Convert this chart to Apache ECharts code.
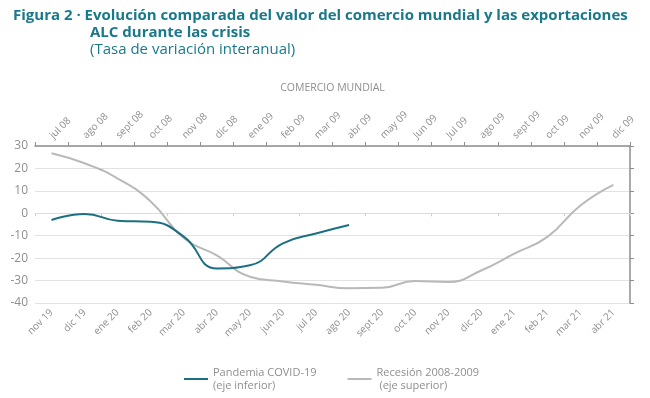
<!DOCTYPE html>
<html lang="es">
<head>
<meta charset="UTF-8">
<title>Figura 2</title>
<script src="https://cdn.jsdelivr.net/npm/echarts@6/dist/echarts.min.js"></script>
<style>
  html, body { margin: 0; padding: 0; background: #fff; }
  #chart { width: 650px; height: 398px; }
</style>
</head>
<body>
<div id="chart"></div>
<script>
// eje inferior: pandemia
var mesesCovid = ['nov 19', 'dic 19', 'ene 20', 'feb 20', 'mar 20', 'abr 20', 'may 20', 'jun 20', 'jul 20',
  'ago 20', 'sept 20', 'oct 20', 'nov 20', 'dic 20', 'ene 21', 'feb 21', 'mar 21', 'abr 21'];
// eje superior: recesion
var mesesRecesion = ['jul 08', 'ago 08', 'sept 08', 'oct 08', 'nov 08', 'dic 08', 'ene 09', 'feb 09', 'mar 09',
  'abr 09', 'may 09', 'Jun 09', 'Jul 09', 'ago 09', 'sept 09', 'oct 09', 'nov 09', 'dic 09'];

var covid = [-3, -0.3, -3.3, -3.8, -10.4, -24.6, -23.2, -13.4, -9, -5.2];
var recesion = [26.8, 22.3, 15.5, 5.3, -11, -18.8, -28.3, -30.4, -31.9, -33.4,
  -33.2, -30.2, -30.6, -25.5, -18, -10.5, 3.5, 12.7];

var yMin = -40, yMax = 30, yStep = 10;

var teal = '#1c6f80';
var gris = '#b9b9b9';
var tituloColor = '#19798b';
var ejeColor = '#8e8e8e';
var textoColor = '#8f8f8f';
var fuente = 'Open Sans';

var chart = echarts.init(document.getElementById('chart'));

var option = {
  animation: false,
  textStyle: { fontFamily: fuente },
  title: [
    {
      text: 'Figura 2 · Evolución comparada del valor del comercio mundial y las exportaciones',
      left: 8, top: 3,
      textStyle: { color: tituloColor, fontSize: 15, fontWeight: 'bold', fontFamily: fuente }
    },
    {
      text: 'ALC durante las crisis',
      left: 85, top: 20,
      textStyle: { color: tituloColor, fontSize: 15, fontWeight: 'bold', fontFamily: fuente }
    },
    {
      text: '(Tasa de variación interanual)',
      left: 85, top: 37,
      textStyle: { color: tituloColor, fontSize: 15, fontWeight: 'normal', fontFamily: fuente }
    }
  ],
  legend: {
    left: 179, top: 361,
    itemGap: 31,
    itemWidth: 24, itemHeight: 2,
    icon: 'rect',
    textStyle: { color: textoColor, fontSize: 11, lineHeight: 13 },
    data: ['Pandemia COVID-19\n(eje inferior)', 'Recesión 2008-2009\n (eje superior)']
  },
  grid: { left: 35, right: 20, top: 146, bottom: 95 },
  xAxis: [
    {
      // linea del cero con marcas
      type: 'category', position: 'bottom', data: mesesCovid,
      axisLine: { onZero: true, lineStyle: { color: '#dcdcdc', width: 1 } },
      axisTick: { show: true, length: 3, lineStyle: { color: '#cfcfcf' } },
      axisLabel: { show: false }
    },
    {
      type: 'category', position: 'top', data: mesesRecesion,
      axisLine: { onZero: false, lineStyle: { color: ejeColor, width: 1.5 } },
      axisTick: { show: true, length: 4, inside: false, lineStyle: { color: ejeColor } },
      axisLabel: { interval: 0, rotate: -45, color: textoColor, fontSize: 10, margin: 9 },
      name: 'COMERCIO MUNDIAL', nameLocation: 'middle', nameGap: 52,
      nameTextStyle: { color: textoColor, fontSize: 10.5 }
    },
    {
      type: 'category', position: 'bottom', data: mesesCovid,
      axisLine: { show: false, onZero: false },
      axisTick: { show: false },
      axisLabel: { interval: 0, rotate: 45, color: textoColor, fontSize: 10, margin: 8 }
    }
  ],
  yAxis: [
    {
      type: 'value', min: yMin, max: yMax, interval: yStep, position: 'left',
      axisLine: { show: false }, axisTick: { show: false },
      axisLabel: { color: textoColor, fontSize: 12, margin: 7 },
      splitLine: { lineStyle: { color: '#e2e2e2', width: 1 } }
    },
    {
      type: 'value', min: yMin, max: yMax, interval: yStep, position: 'right',
      axisLine: { show: true, lineStyle: { color: ejeColor, width: 1.5 } },
      axisTick: { show: true, length: 4, lineStyle: { color: ejeColor } },
      axisLabel: { show: false },
      splitLine: { show: false }
    }
  ],
  series: [
    {
      name: 'Pandemia COVID-19\n(eje inferior)', type: 'line',
      xAxisIndex: 0, yAxisIndex: 0,
      data: covid, smooth: 0.5, symbol: 'none',
      lineStyle: { color: teal, width: 2 }, itemStyle: { color: teal }, z: 3
    },
    {
      name: 'Recesión 2008-2009\n (eje superior)', type: 'line',
      xAxisIndex: 1, yAxisIndex: 0,
      data: recesion, smooth: 0.5, symbol: 'none',
      lineStyle: { color: gris, width: 2 }, itemStyle: { color: gris }, z: 2
    }
  ]
};

chart.setOption(option);
</script>
</body>
</html>
